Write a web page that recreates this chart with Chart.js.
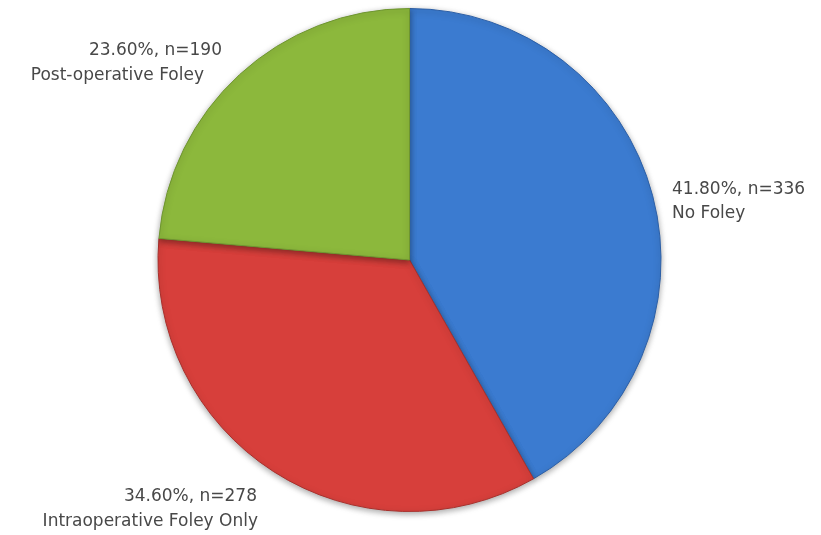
<!DOCTYPE html>
<html>
<head>
<meta charset="utf-8">
<script src="https://cdn.jsdelivr.net/npm/chart.js@4.4.1/dist/chart.umd.min.js"></script>
<style>
  html, body { margin: 0; padding: 0; background: #fff; }
  #wrap { width: 821px; height: 535px; position: relative; }
</style>
</head>
<body>
<div id="wrap"><canvas id="chartFoley"></canvas></div>
<script>
// data
const categories = ["No Foley", "Intraoperative Foley Only", "Post-operative Foley"];
const percents   = [41.8, 34.6, 23.6];
const counts     = [336, 278, 190];

// slice colours: centre, body, rim
const sliceLight = ["#4a8ae0", "#e45049", "#9cc648"];
const sliceBase  = ["#3b7bd0", "#d73f3b", "#8cb83c"];
const sliceDark  = ["#2c5fa6", "#a8302c", "#6e9530"];

// where each label block sits (text only, not marks)
const labelPlace = [
    { x: 672, y: 190, x2: 672, gap: 24, align: "left"  },
    { x: 257, y: 497, x2: 258, gap: 25, align: "right" },
    { x: 222, y: 51,  x2: 204, gap: 25, align: "right" }
];

function sliceFill(context) {
    const i = context.dataIndex;
    const chart = context.chart;
    const arc = chart.getDatasetMeta(0).data[i];
    if (!chart.chartArea || !arc || !arc.outerRadius) return sliceBase[i];
    const g = chart.ctx.createRadialGradient(arc.x, arc.y, 0, arc.x, arc.y, arc.outerRadius);
    g.addColorStop(0, sliceLight[i]);
    g.addColorStop(0.8, sliceBase[i]);
    g.addColorStop(0.96, sliceBase[i]);
    g.addColorStop(1, sliceDark[i]);
    return g;
}

// soft shadow under the pie
const pieShadow = {
    id: "pieShadow",
    beforeDatasetsDraw(chart) {
        const c = chart.ctx;
        c.save();
        c.shadowColor = "rgba(0,0,0,0.35)";
        c.shadowBlur = 6;
        c.shadowOffsetY = 2;
    },
    afterDatasetsDraw(chart) {
        chart.ctx.restore();
    }
};

// two-line labels: "41.80%, n=336" / "No Foley"
const sliceLabels = {
    id: "sliceLabels",
    afterDraw(chart) {
        const c = chart.ctx;
        c.save();
        c.fillStyle = "#484848";
        c.font = "17px 'DejaVu Sans', sans-serif";
        c.textBaseline = "middle";
        categories.forEach((name, i) => {
            const p = labelPlace[i];
            c.textAlign = p.align;
            c.fillText(percents[i].toFixed(2) + "%, n=" + counts[i], p.x, p.y);
            c.fillText(name, p.x2, p.y + p.gap);
        });
        c.restore();
    }
};

const ctx = document.getElementById("chartFoley").getContext("2d");
new Chart(ctx, {
    type: "pie",
    data: {
        labels: categories,
        datasets: [{
            data: counts,
            backgroundColor: sliceFill,
            borderColor: sliceDark,
            borderWidth: 1
        }]
    },
    options: {
        responsive: true,
        maintainAspectRatio: false,
        animation: false,
        layout: { padding: { top: 8, bottom: 23, left: 0, right: 2 } },
        plugins: {
            legend: { display: false },
            tooltip: { enabled: false }
        }
    },
    plugins: [pieShadow, sliceLabels]
});
</script>
</body>
</html>
